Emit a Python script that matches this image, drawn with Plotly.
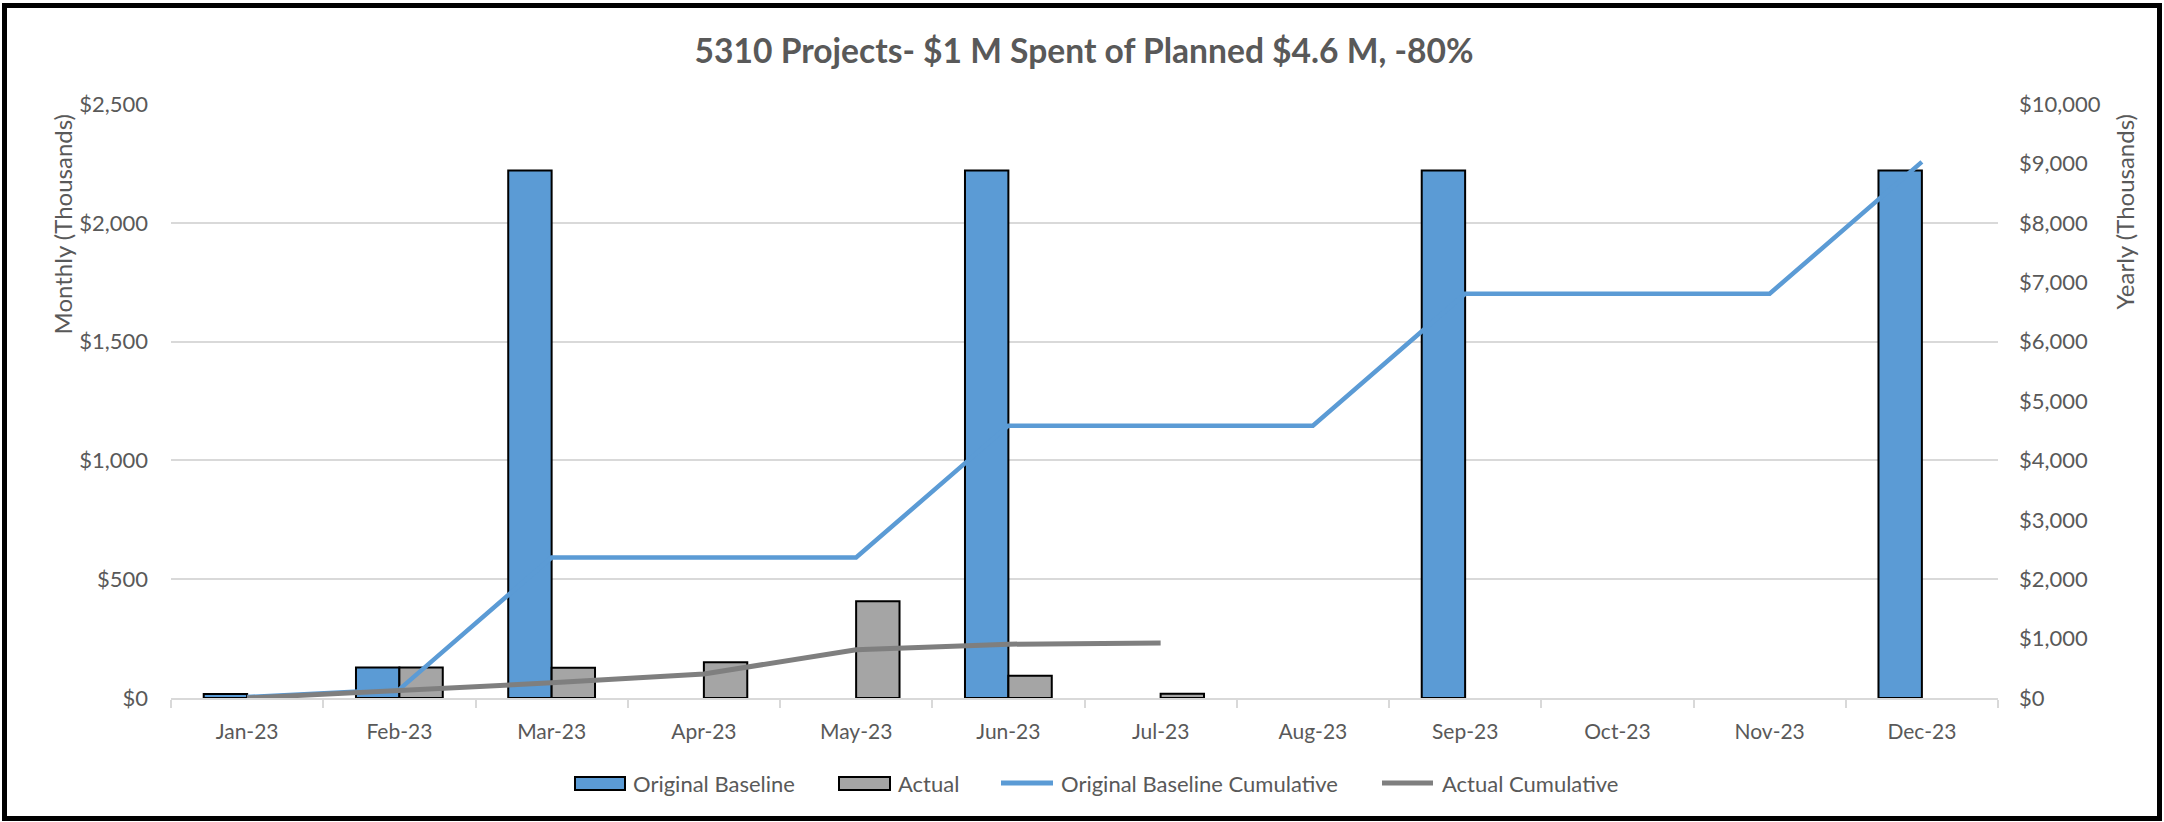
import plotly.graph_objects as go

months = ["Jan-23", "Feb-23", "Mar-23", "Apr-23", "May-23", "Jun-23",
          "Jul-23", "Aug-23", "Sep-23", "Oct-23", "Nov-23", "Dec-23"]
baseline = [17, 128, 2220, None, None, 2220, None, None, 2220, None, None, 2220]
actual = [None, 128, 127, 150, 407, 94, 18, None, None, None, None, None]
baseline_cum = [17, 145, 2365, 2365, 2365, 4585, 4585, 4585, 6805, 6805, 6805, 9025]
actual_cum = [0, 128, 255, 405, 812, 906, 924, None, None, None, None, None]

title_text = "5310 Projects- $1 M Spent of Planned $4.6 M, -80%"
series_names = ["Original Baseline", "Actual", "Original Baseline Cumulative", "Actual Cumulative"]

W, H = 2164, 822
L, R, T, B = 171, 166, 104, 124
pw, ph = W - L - R, H - T - B

def px_x(p):
    return (p - L) / pw

def px_y(p):
    return (H - B - p) / ph

FONT = "Lato"
TXT = "#595959"
GRID = "#D9D9D9"
BLUE = "#5B9BD5"
GREY = "#A5A5A5"
DGREY = "#7F7F7F"

fig = go.Figure()
fig.add_trace(go.Bar(x=months, y=baseline, name=series_names[0],
                     marker=dict(color=BLUE, line=dict(color="black", width=2))))
fig.add_trace(go.Bar(x=months, y=actual, name=series_names[1],
                     marker=dict(color=GREY, line=dict(color="black", width=2))))
fig.add_trace(go.Scatter(x=months, y=baseline_cum, name=series_names[2],
                         mode="lines", line=dict(color=BLUE, width=4.5), yaxis="y2"))
fig.add_trace(go.Scatter(x=months, y=actual_cum, name=series_names[3],
                         mode="lines", line=dict(color=DGREY, width=5), yaxis="y2"))

# legend drawn as decoration (Excel-style wide swatches)
legend_y = 783
shapes = [
    dict(type="rect", xref="paper", yref="paper",
         x0=px_x(4.5), x1=px_x(2159.5), y0=px_y(818.5), y1=px_y(5.5),
         line=dict(color="black", width=5), fillcolor="rgba(0,0,0,0)", layer="above"),
    dict(type="rect", xref="paper", yref="paper", x0=px_x(575), x1=px_x(625),
         y0=px_y(790), y1=px_y(777), fillcolor=BLUE, line=dict(color="black", width=2)),
    dict(type="rect", xref="paper", yref="paper", x0=px_x(839), x1=px_x(890),
         y0=px_y(790), y1=px_y(777), fillcolor=GREY, line=dict(color="black", width=2)),
    dict(type="line", xref="paper", yref="paper", x0=px_x(1001), x1=px_x(1053),
         y0=px_y(legend_y), y1=px_y(legend_y), line=dict(color=BLUE, width=5)),
    dict(type="line", xref="paper", yref="paper", x0=px_x(1382), x1=px_x(1433),
         y0=px_y(legend_y), y1=px_y(legend_y), line=dict(color=DGREY, width=5)),
]
legend_text_x = [631, 896, 1059, 1440]
annotations = [
    dict(text="Monthly (Thousands)", textangle=-90, xref="paper", yref="paper",
         x=px_x(62), y=px_y(112), xanchor="center", yanchor="top", showarrow=False,
         font=dict(size=24, color=TXT)),
    dict(text="Yearly (Thousands)", textangle=-90, xref="paper", yref="paper",
         x=px_x(2124), y=px_y(113), xanchor="center", yanchor="top", showarrow=False,
         font=dict(size=24, color=TXT)),
]
for name, tx in zip(series_names, legend_text_x):
    annotations.append(dict(text=name, xref="paper", yref="paper", x=px_x(tx), y=px_y(legend_y),
                            xanchor="left", yanchor="middle", showarrow=False,
                            font=dict(size=22, color=TXT)))

fig.update_layout(
    width=W, height=H,
    margin=dict(l=L, r=R, t=T, b=B, pad=0),
    paper_bgcolor="white", plot_bgcolor="white",
    font=dict(family=FONT, color=TXT, size=20),
    barmode="group", bargap=0.43, bargroupgap=0,
    showlegend=False,
    title=dict(text="<b>" + title_text + "</b>", x=px_x(1084), xref="paper",
               xanchor="center", y=1 - 51 / H, yref="container", yanchor="middle",
               font=dict(family=FONT, size=33.6, color=TXT)),
    xaxis=dict(type="category", showline=True, linecolor=GRID, linewidth=2,
               ticks="outside", tickson="boundaries", ticklen=8, tickcolor=GRID, tickwidth=2,
               showgrid=False, tickfont=dict(size=21, color=TXT), ticklabelstandoff=14),
    yaxis=dict(range=[0, 2500], dtick=500, tickprefix="$", tickformat=",",
               showgrid=True, gridcolor=GRID, gridwidth=2, zeroline=False,
               tickfont=dict(size=22, color=TXT), ticklabelstandoff=22),
    yaxis2=dict(range=[0, 10000], dtick=1000, tickprefix="$", tickformat=",",
                overlaying="y", side="right", showgrid=False, zeroline=False,
                tickfont=dict(size=22, color=TXT), ticklabelstandoff=20),
    annotations=annotations,
    shapes=shapes,
)

fig.write_html("out.html", config={"displayModeBar": False},
               post_script="document.body.style.margin='0';document.body.style.overflow='hidden';")
